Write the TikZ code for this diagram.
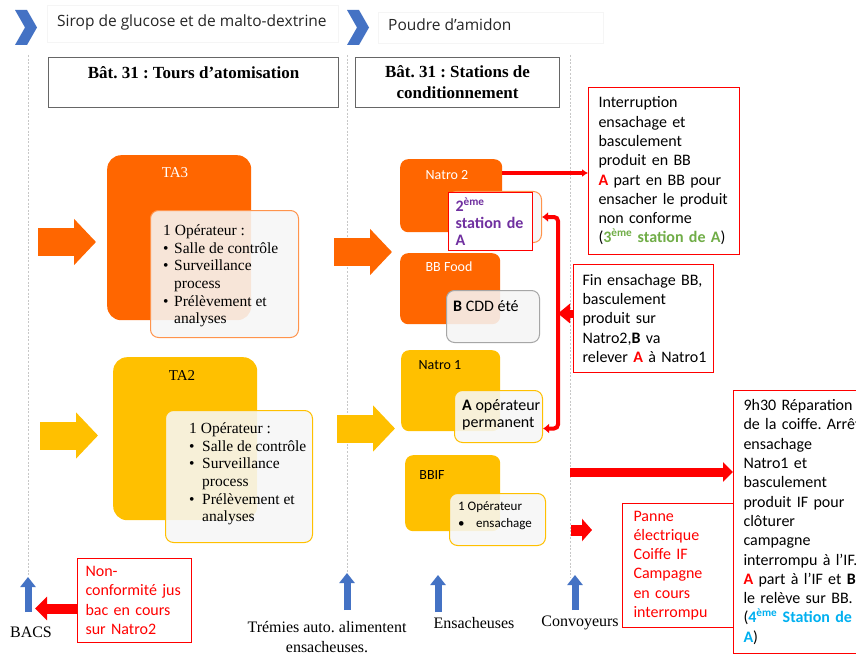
\documentclass[tikz,border=0pt]{standalone}
\usepackage{fontspec}
\setmainfont{Liberation Serif}
\newfontfamily\calfont{Carlito}
\newfontfamily\segfont{Open Sans}
\usetikzlibrary{arrows.meta}

\definecolor{tOrange}{RGB}{255,102,0}
\definecolor{tYellow}{RGB}{255,192,0}
\definecolor{tBlue}{RGB}{68,114,196}
\definecolor{tRed}{RGB}{255,0,0}
\definecolor{tPurple}{RGB}{112,48,160}
\definecolor{tGreen}{RGB}{112,173,71}
\definecolor{tCyan}{RGB}{0,176,240}

% bullet items for the operator cards
\newcommand\itemdot[1]{\makebox[#1][l]{\textbullet}}
\newcommand\itemgap[1]{\hspace*{#1}}

\frenchspacing
\begin{document}
\begin{tikzpicture}[x=1pt,y=-1pt,
  bigbox/.style={anchor=north west, inner sep=0pt, rounded corners=14pt},
  smallbox/.style={anchor=north west, inner sep=0pt, rounded corners=8pt},
  card/.style={anchor=north west, inner sep=0pt, rounded corners=8pt,
    line width=1pt, fill=white!97!black, fill opacity=0.88},
  blocklabel/.style={inner sep=0pt, font=\calfont\fontsize{14}{17}\selectfont},
  talabel/.style={inner sep=0pt, font=\fontsize{15}{18}\selectfont},
  tatext/.style={anchor=west, align=left, inner sep=0pt,
    font=\fontsize{15.5}{17.6}\selectfont},
  ctext/.style={anchor=west, align=left, inner sep=0pt,
    font=\calfont\fontsize{16}{17}\selectfont},
  note/.style={draw=tRed, line width=1pt, anchor=north west, inner ysep=0pt,
    align=left, font=\calfont\fontsize{16}{19.3}\selectfont},
  hdr/.style={draw=black!60, line width=1pt, anchor=north west, inner sep=0pt},
  hdrtext/.style={inner sep=0pt, align=center,
    font=\bfseries\fontsize{17}{21}\selectfont},
  toplabel/.style={anchor=west, inner sep=0pt, text=black!85,
    font=\segfont\fontsize{15.5}{18}\selectfont},
  btm/.style={inner sep=0pt, align=center, font=\fontsize{16}{20}\selectfont},
  guide/.style={draw=black!22, line width=0.7pt, dash pattern=on 2pt off 1.6pt},
  fatarrow/.style={line width=28pt, -{Triangle[length=22pt,width=45pt]}},
  uparrow/.style={draw=tBlue, line width=7pt, -{Triangle[length=10pt,width=15pt]}},
  redline/.style={draw=tRed, line width=3.5pt, -{Latex[length=6pt,width=8pt]}},
  bracket/.style={draw=tRed, line width=4pt, rounded corners=4pt,
    {Latex[length=6pt,width=10pt]}-{Latex[length=6pt,width=10pt]}},
  redfat/.style={draw=tRed, line width=8pt, -{Triangle[length=12pt,width=19pt]}},
  redbig/.style={draw=tRed, line width=9pt, -{Triangle[length=10pt,width=19pt]}},
  redsmall/.style={draw=tRed, line width=11pt, -{Triangle[length=10pt,width=22pt]}}
]
\useasboundingbox (0,0) rectangle (856,655);
\fill[white] (0,0) rectangle (856,655);
\clip (0,0) rectangle (856,655);

% ---- flow labels along the top
\fill[tBlue] (15,10) -- (27,10) -- (37,27.5) -- (27,45) -- (15,45) -- (25,27.5) -- cycle;
\fill[tBlue] (347,10) -- (359,10) -- (369,27.5) -- (359,45) -- (347,45) -- (357,27.5) -- cycle;
\draw[black!4] (47,5) rectangle (338,42);
\draw[black!4] (378,12) rectangle (603,43);
\node[toplabel] (sirop) at (57,22) {Sirop de glucose et de malto-dextrine};
\node[toplabel] (poudre) at (388,25) {Poudre d’amidon};

% ---- column guides
\draw[guide] (28,55) -- (28,575);
\draw[guide] (347,55) -- (347,572);
\draw[guide] (570,55) -- (570,578);

% ---- column headers
\node[hdr, minimum width=290pt, minimum height=50pt] (hdr1) at (48,57) {};
\node[hdrtext] (hdr1t) at ([yshift=-16pt]hdr1.north) {Bât. 31 : Tours d’atomisation};
\node[hdr, minimum width=204pt, minimum height=50pt, hdrtext, inner sep=0pt] (hdr2) at (355,57)
  {Bât. 31 : Stations de\\conditionnement};

% ---- feed arrows
\draw[fatarrow, tOrange] (38,242) -- (96,242);
\draw[fatarrow, tYellow] (40,435.5) -- (98,435.5);
\draw[fatarrow, tOrange] (334,252) -- (392,252);
\draw[fatarrow, tYellow] (337,428.5) -- (395,428.5);

% ---- spray towers
\node[bigbox, fill=tOrange, minimum width=144pt, minimum height=165pt] (ta3) at (107,155) {};
\node[talabel, text=white] (ta3lbl) at (175,173) {TA3};
\node[card, draw=tOrange!70, minimum width=148pt, minimum height=127pt] (ta3card) at (150,210) {};
\node[tatext] (ta3txt) at (163,276) {1 Opérateur :\\
  \itemdot{11pt}Salle de contrôle\\
  \itemdot{11pt}Surveillance\\
  \itemgap{11pt}process\\
  \itemdot{11pt}Prélèvement et\\
  \itemgap{11pt}analyses};

\node[bigbox, fill=tYellow, minimum width=144pt, minimum height=163pt] (ta2) at (113,357) {};
\node[talabel] (ta2lbl) at (182,376) {TA2};
\node[card, draw=tYellow, minimum width=147pt, minimum height=132pt] (ta2card) at (165,410) {};
\node[tatext] (ta2txt) at (189,474) {1 Opérateur :\\
  \itemdot{13pt}Salle de contrôle\\
  \itemdot{13pt}Surveillance\\
  \itemgap{13pt}process\\
  \itemdot{13pt}Prélèvement et\\
  \itemgap{13pt}analyses};

% ---- bagging stations
\node[smallbox, fill=tOrange, minimum width=102pt, minimum height=73pt] (natro2) at (400,159) {};
\node[blocklabel, text=white] (natro2lbl) at (447,175) {Natro 2};
\node[card, draw=tOrange!70, minimum width=93pt, minimum height=51pt] (st2card) at (448,191) {};
\node[draw=tRed, line width=1.2pt, fill=white, anchor=north west, minimum width=84pt,
  minimum height=58pt, text width=70pt, inner xsep=7pt, inner ysep=0pt, align=left,
  text=tPurple, font=\calfont\bfseries\fontsize{16}{17}\selectfont] (st2) at (448,192)
  {2\textsuperscript{ème}\\station de\\A};

\node[smallbox, fill=tOrange, minimum width=100pt, minimum height=71pt] (bbfood) at (400,253) {};
\node[blocklabel, text=white] (bbfoodlbl) at (449,267) {BB Food};
\node[card, draw=black!35, fill=black!4, minimum width=93pt, minimum height=52pt] (bbcard) at (446,290) {};
\node[ctext] (bbtxt) at (453,306) {\textbf{B} CDD été};

\node[smallbox, fill=tYellow, minimum width=99pt, minimum height=81pt] (natro1) at (401,350) {};
\node[blocklabel] (natro1lbl) at (440,365) {Natro 1};
\node[card, draw=tYellow, minimum width=88pt, minimum height=52pt] (aopcard) at (454,390) {};
\node[ctext] (aoptxt) at (462,415) {\textbf{A} opérateur\\permanent};

\node[smallbox, fill=tYellow, minimum width=95pt, minimum height=76pt] (bbif) at (405,455) {};
\node[blocklabel] (bbiflbl) at (432,475) {BBIF};
\node[card, draw=tYellow, minimum width=96pt, minimum height=52pt] (bbifcard) at (449,493) {};
\node[ctext, font=\calfont\fontsize{13}{17}\selectfont] (bbiftxt) at (458,515.5)
  {1 Opérateur\\\itemdot{18pt}ensachage};

% ---- event notes
\node[note, inner xsep=10pt, text width=131pt, minimum height=167pt] (interrupt) at (588,87)
  {Interruption\\ensachage et\\basculement\\produit en BB\\
   \textcolor{tRed}{\textbf{A}} part en BB pour\\ensacher le produit\\non conforme\\
   (\textcolor{tGreen}{\textbf{3\textsuperscript{ème} station de A}})};
\node[note, inner xsep=9pt, text width=122pt, minimum height=108pt] (fin) at (573,264)
  {\mbox{Fin ensachage BB,}\\basculement\\produit sur\\Natro2,\textbf{B} va\\
   \mbox{relever \textcolor{tRed}{\textbf{A}} à Natro1}};
\node[note, inner xsep=10pt, text width=140pt, minimum height=263pt] (repair) at (733,390)
  {9h30 Réparation\\de la coiffe. Arrêt\\ensachage\\Natro1 et\\basculement\\
   produit IF pour\\clôturer\\campagne\\interrompu à l’IF.\\
   \textcolor{tRed}{\textbf{A}} part à l’IF et \textbf{B}\\le relève sur BB.\\
   (\textcolor{tCyan}{\textbf{4\textsuperscript{ème} Station de}}\\
   \textcolor{tCyan}{\textbf{A}})};
\node[note, inner xsep=11pt, text width=89pt, minimum height=124pt, text=tRed] (panne) at (622,503)
  {Panne\\électrique\\Coiffe IF\\Campagne\\en cours\\interrompu};
\node[note, inner xsep=8pt, text width=98pt, minimum height=84pt, text=tRed] (nonconf) at (77,558)
  {Non-\\\mbox{conformité jus}\\bac en cours\\sur Natro2};

% ---- red connectors
\draw[redline] ([yshift=-14pt]natro2.north east) -- ([yshift=-14pt]natro2.north east -| interrupt.west);
\draw[bracket] (st2card.east) -- ++(16,0) coordinate (bk) |- ([yshift=-12pt]aopcard.east);
\draw[redfat] ([yshift=5pt]fin.west) -- ([yshift=5pt]fin.west -| bk);
\coordinate (convA) at (570,472);
\draw[redbig] (convA) -- (convA -| repair.west);
\coordinate (convB) at (571,530);
\coordinate (convBtip) at (592,530);
\draw[redsmall] (convB) -- (convBtip);
\draw[redfat, line width=10pt, -{Triangle[length=12pt,width=23pt]}]
  ([yshift=-8pt]nonconf.west) -- ++(-42,0) coordinate (bacsR);

% ---- bottom labels with their arrows
\node[btm] (bacs) at (31,632) {BACS};
\node[btm] (tremies) at (327,637) {Trémies auto. alimentent\\ensacheuses.};
\node[btm] (ens) at (474,623) {Ensacheuses};
\node[btm] (conv) at (580,623) {Convoyeurs};
\coordinate (bacsA) at (28,612);     \coordinate (bacsB) at (28,577);
\coordinate (tremA) at (347,610);    \coordinate (tremB) at (347,573);
\coordinate (ensA) at (438,612);     \coordinate (ensB) at (438,575);
\coordinate (convC) at (575,610);    \coordinate (convD) at (575,575);
\draw[uparrow] (bacsA) -- (bacsB);
\draw[uparrow] (tremA) -- (tremB);
\draw[uparrow] (ensA) -- (ensB);
\draw[uparrow] (convC) -- (convD);
\end{tikzpicture}
\end{document}
